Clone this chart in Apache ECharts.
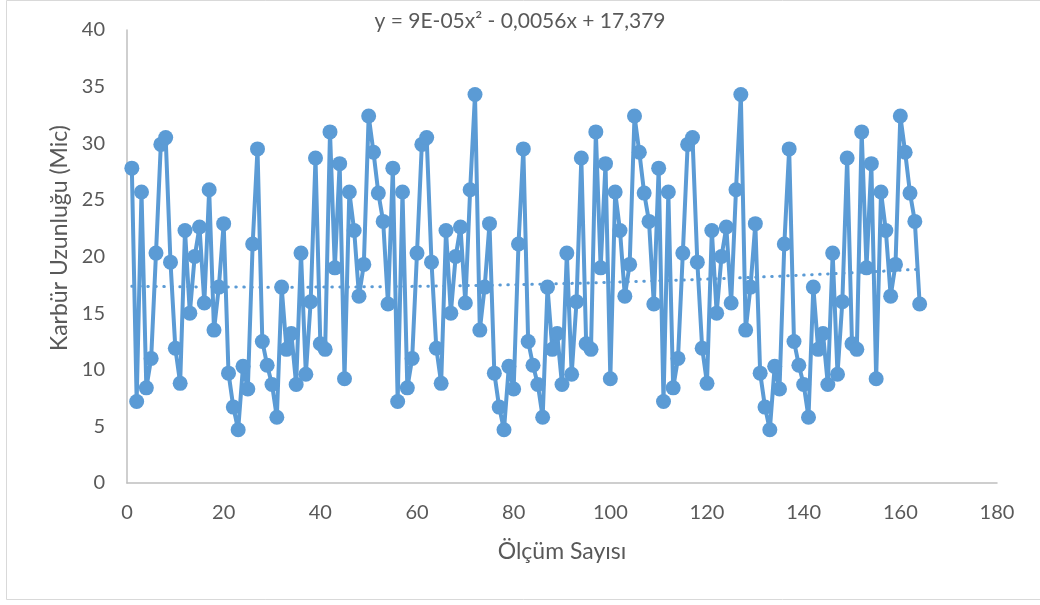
<!DOCTYPE html>
<html>
<head>
<meta charset="utf-8">
<script src="https://cdn.jsdelivr.net/npm/echarts@6/dist/echarts.min.js"></script>
<style>
  html, body { margin: 0; padding: 0; background: #ffffff; }
  #chart { width: 1040px; height: 605px; }
</style>
</head>
<body>
<div id="chart"></div>
<script>
// Carbide length per measurement, in three runs
const run1 = [27.8, 7.2, 25.7, 8.4, 11.0, 20.3, 29.9, 30.5, 19.5, 11.9, 8.8, 22.3, 15.0, 20.0, 22.6, 15.9, 25.9,
  13.5, 17.3, 22.9, 9.7, 6.7, 4.7, 10.3, 8.3, 21.1, 29.5, 12.5, 10.4, 8.7, 5.8, 17.3, 11.8, 13.2, 8.7, 20.3, 9.6,
  16.0, 28.7, 12.3, 11.8, 31.0, 19.0, 28.2, 9.2, 25.7, 22.3, 16.5, 19.3, 32.4, 29.2, 25.6, 23.1, 15.8];
const run2 = [27.8, 7.2, 25.7, 8.4, 11.0, 20.3, 29.9, 30.5, 19.5, 11.9, 8.8, 22.3, 15.0, 20.0, 22.6, 15.9, 25.9,
  34.3, 13.5, 17.3, 22.9, 9.7, 6.7, 4.7, 10.3, 8.3, 21.1, 29.5, 12.5, 10.4, 8.7, 5.8, 17.3, 11.8, 13.2, 8.7, 20.3,
  9.6, 16.0, 28.7, 12.3, 11.8, 31.0, 19.0, 28.2, 9.2, 25.7, 22.3, 16.5, 19.3, 32.4, 29.2, 25.6, 23.1, 15.8];
const run3 = [27.8, 7.2, 25.7, 8.4, 11.0, 20.3, 29.9, 30.5, 19.5, 11.9, 8.8, 22.3, 15.0, 20.0, 22.6, 15.9, 25.9,
  34.3, 13.5, 17.3, 22.9, 9.7, 6.7, 4.7, 10.3, 8.3, 21.1, 29.5, 12.5, 10.4, 8.7, 5.8, 17.3, 11.8, 13.2, 8.7, 20.3,
  9.6, 16.0, 28.7, 12.3, 11.8, 31.0, 19.0, 28.2, 9.2, 25.7, 22.3, 16.5, 19.3, 32.4, 29.2, 25.6, 23.1, 15.8];

// Polynomial trendline coefficients (x², x, constant) as printed on the chart
const trendCoef = [9e-5, -0.0056, 17.379];
const trendLabel = 'y = 9E-05x² - 0,0056x + 17,379';

const xTitle = 'Ölçüm Sayısı';
const yTitle = 'Karbür Uzunluğu (Mic)';

const values = run1.concat(run2, run3);
const points = values.map((v, i) => [i + 1, v]);
const trend = points.map(p => {
  const x = p[0];
  return [x, trendCoef[0] * x * x + trendCoef[1] * x + trendCoef[2]];
});

const blue = '#5b9bd5';
const textColor = '#595959';
const font = 'Lato';

const chart = echarts.init(document.getElementById('chart'), null, { renderer: 'canvas' });
chart.setOption({
  backgroundColor: '#ffffff',
  animation: false,
  textStyle: { fontFamily: font },
  title: {
    text: trendLabel,
    left: 'center',
    top: 6,
    textStyle: { fontFamily: font, fontSize: 21, fontWeight: 'normal', color: textColor }
  },
  graphic: [
    {
      type: 'rect',
      shape: { x: 6.5, y: 0.5, width: 1100, height: 599 },
      style: { fill: 'none', stroke: '#d9d9d9', lineWidth: 1 },
      silent: true
    },
    {
      type: 'text',
      x: 60, y: 238,
      rotation: Math.PI / 2,
      style: {
        text: yTitle,
        fontFamily: font, fontSize: 23, fill: textColor,
        align: 'center', verticalAlign: 'middle'
      },
      silent: true
    }
  ],
  grid: { left: 127, right: 43, top: 30, bottom: 122 },
  xAxis: {
    type: 'value',
    min: 0, max: 180, interval: 20,
    name: xTitle,
    nameLocation: 'middle',
    nameGap: 57,
    nameTextStyle: { fontFamily: font, fontSize: 23, color: textColor },
    axisLine: { show: true, lineStyle: { color: '#bfbfbf', width: 1.5 } },
    axisTick: { show: false },
    splitLine: { show: false },
    axisLabel: { fontFamily: font, fontSize: 20, color: textColor, margin: 20 }
  },
  yAxis: {
    type: 'value',
    min: 0, max: 40, interval: 5,
    axisLine: { show: true, lineStyle: { color: '#bfbfbf', width: 1.5 } },
    axisTick: { show: false },
    splitLine: { show: false },
    axisLabel: { fontFamily: font, fontSize: 20, color: textColor, margin: 22 }
  },
  series: [
    {
      name: 'trend',
      type: 'line',
      data: trend,
      symbol: 'none',
      z: 1,
      lineStyle: { color: blue, width: 3, type: [0.5, 7.5], cap: 'round' }
    },
    {
      name: 'Karbür',
      type: 'line',
      data: points,
      symbol: 'circle',
      symbolSize: 15,
      z: 2,
      itemStyle: { color: blue },
      lineStyle: { color: blue, width: 4 }
    }
  ]
});
</script>
</body>
</html>
